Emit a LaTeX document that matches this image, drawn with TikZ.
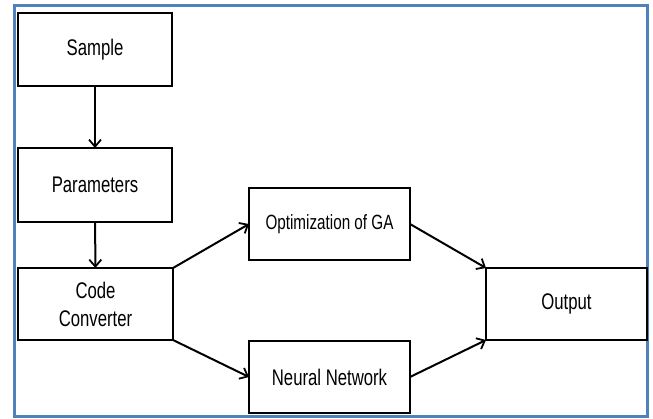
\documentclass[tikz,border=0pt]{standalone}
\usepackage{fontspec}
\setmainfont{Liberation Sans}[FakeStretch=0.74]
\usetikzlibrary{arrows.meta}
\definecolor{framecol}{HTML}{4F81BD}
\tikzset{
  block/.style={draw=black, line width=2pt, fill=white, rectangle,
    inner sep=0pt, outer sep=0pt, align=center,
    font=\fontsize{22.6}{28}\selectfont},
  link/.style={line width=2pt, -{Straight Barb[length=7pt,width=12pt,line width=1.8pt]}},
}
\begin{document}
\begin{tikzpicture}[x=1pt,y=-1pt]
\useasboundingbox (0,0) rectangle (653,418);
% outer frame
\draw[framecol, line width=3pt] (14,5) rectangle (647,416);

% blocks
\node[block, minimum width=154pt, minimum height=73pt] (sample) at (95,49.5) {Sample};
\node[block, minimum width=154pt, minimum height=74pt] (params) at (95,185) {Parameters};
\node[block, minimum width=155pt, minimum height=72pt] (conv) at (95.5,304) {Code\\Converter};
\node[block, minimum width=161pt, minimum height=72pt, font=\fontsize{20.6}{26}\selectfont] (ga) at (329.5,224) {Optimization of GA};
\node[block, minimum width=161pt, minimum height=72pt] (nn) at (329.5,377) {Neural Network};
\node[block, minimum width=161pt, minimum height=72pt] (out) at (566.5,304) {Output};

% connectors
\draw[link] (sample) -- (params);
\draw[link] (params) -- (conv);
\draw[link] (conv.north east) -- (ga.west);
\draw[link] (conv.south east) -- (nn.west);
\draw[link] (ga.east) -- (out.north west);
\draw[link] (nn.east) -- (out.south west);
\end{tikzpicture}
\end{document}
